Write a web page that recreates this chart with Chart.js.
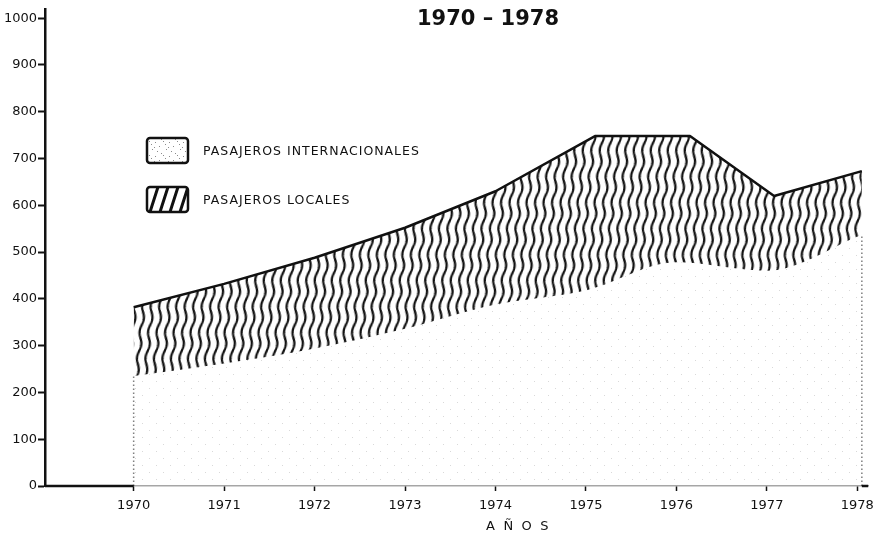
<!DOCTYPE html>
<html>
<head>
<meta charset="utf-8">
<script src="https://cdn.jsdelivr.net/npm/chart.js@4/dist/chart.umd.min.js"></script>
<style>
  html, body { margin: 0; padding: 0; background: #fff; }
  canvas { display: block; }
</style>
</head>
<body>
<canvas id="myChart" width="881" height="540"></canvas>
<script>
// values (thousands of passengers)
const aniosInt = [1970, 1971, 1972, 1973, 1974, 1975, 1976, 1977, 1978.05];
const internacionales = [235, 262, 294, 336, 388, 418, 478, 460, 537];
const aniosTotal = [1970, 1971, 1972, 1973, 1974, 1975.1, 1976.15, 1977.08, 1978.05];
const totalPasajeros = [382, 432, 488, 552, 630, 748, 748, 620, 673];
const yearTicks = [1970, 1971, 1972, 1973, 1974, 1975, 1976, 1977, 1978];
const valueTicks = [0, 100, 200, 300, 400, 500, 600, 700, 800, 900, 1000];
const etiquetas = ['PASAJEROS INTERNACIONALES', 'PASAJEROS LOCALES'];

const INK = '#111';
const FONT = 'DejaVu Sans';

// two wavy strokes per 17px tile -> one stroke every 8.5px
function wavyPattern(skew) {
  const c = document.createElement('canvas');
  c.width = 17; c.height = 26;
  const g = c.getContext('2d');
  g.strokeStyle = INK;
  g.lineWidth = 2.3;
  [4.25, 12.75].forEach(cx => {
    g.beginPath();
    for (let y = -2; y <= 28; y++) {
      const x = cx + 1.5 * Math.sin(y / 26 * 2 * Math.PI);
      if (y === -2) g.moveTo(x, y); else g.lineTo(x, y);
    }
    g.stroke();
  });
  const p = g.createPattern(c, 'repeat');
  p.setTransform(new DOMMatrix([1, 0, skew, 1, 0, 0]));
  return p;
}

function stipple(alpha, dots) {
  const c = document.createElement('canvas');
  c.width = 14; c.height = 14;
  const g = c.getContext('2d');
  g.fillStyle = 'rgba(0,0,0,' + alpha + ')';
  dots.forEach(d => g.fillRect(d[0], d[1], 1, 1));
  return g.createPattern(c, 'repeat');
}

const wavy = wavyPattern(-0.1);
const dotsArea = stipple(0.15, [[2, 3], [9, 10]]);
const dotsLegend = stipple(0.45, [[1, 2], [5, 6], [9, 1], [12, 9], [3, 11], [7, 13], [11, 4], [0, 7]]);

const decor = {
  id: 'decor',
  afterDatasetsDraw(chart) {
    const {ctx, scales: {x, y}} = chart;
    const y0 = y.getPixelForValue(0);
    ctx.save();
    // the axis is only drawn solid outside the stippled area
    ctx.strokeStyle = INK;
    ctx.lineWidth = 2.5;
    ctx.beginPath();
    ctx.moveTo(x.left, y0);
    ctx.lineTo(x.getPixelForValue(aniosInt[0]), y0);
    ctx.moveTo(x.getPixelForValue(aniosInt[aniosInt.length - 1]), y0);
    ctx.lineTo(x.right, y0);
    ctx.stroke();
    // dotted side edges of the international area
    ctx.strokeStyle = 'rgba(0,0,0,0.5)';
    ctx.lineWidth = 1.5;
    ctx.setLineDash([1.5, 2.5]);
    ctx.beginPath();
    [0, aniosInt.length - 1].forEach(i => {
      const px = x.getPixelForValue(aniosInt[i]);
      ctx.moveTo(px, y0);
      ctx.lineTo(px, y.getPixelForValue(internacionales[i]));
    });
    ctx.stroke();
    ctx.restore();
  },
  afterDraw(chart) {
    const ctx = chart.ctx;
    ctx.save();
    ctx.fillStyle = INK;
    ctx.font = 'bold 21px "' + FONT + '"';
    ctx.textBaseline = 'alphabetic';
    ctx.textAlign = 'center';
    ctx.fillText('1970 \u2013 1978', 488, 25);

    // legend
    ctx.textAlign = 'left';
    const boxes = [{y: 138, fill: dotsLegend}, {y: 187, fill: null}];
    boxes.forEach((b, i) => {
      ctx.beginPath();
      ctx.roundRect(147, b.y, 41, 25, 3);
      ctx.fillStyle = '#fff';
      ctx.fill();
      if (b.fill) {
        ctx.fillStyle = b.fill;
        ctx.fill();
      } else {
        ctx.save();
        ctx.clip();
        ctx.strokeStyle = INK;
        ctx.lineWidth = 3;
        ctx.beginPath();
        for (let k = 0; k < 5; k++) {
          const bx = 147 + 3 + k * 10;
          ctx.moveTo(bx, b.y + 25);
          ctx.lineTo(bx + 8, b.y);
        }
        ctx.stroke();
        ctx.restore();
      }
      ctx.strokeStyle = INK;
      ctx.lineWidth = 2.5;
      ctx.beginPath();
      ctx.roundRect(147, b.y, 41, 25, 3);
      ctx.stroke();
      ctx.fillStyle = INK;
      ctx.font = '12.5px "' + FONT + '"';
      ctx.letterSpacing = '1px';
      ctx.textBaseline = 'middle';
      ctx.fillText(etiquetas[i], 203, b.y + 14);
    });

    ctx.font = '13px "' + FONT + '"';
    ctx.letterSpacing = '8.5px';
    ctx.fillText('A\u00D1OS', 486, 527);
    ctx.restore();
  }
};

const ctx = document.getElementById('myChart');

new Chart(ctx, {
  type: 'line',
  data: {
    datasets: [{
      label: etiquetas[0],
      data: aniosInt.map((a, i) => ({x: a, y: internacionales[i]})),
      borderWidth: 0,
      borderColor: 'rgba(0,0,0,0)',
      backgroundColor: dotsArea,
      fill: 'origin',
      pointRadius: 0,
      cubicInterpolationMode: 'monotone'
    }, {
      label: etiquetas[1],
      data: aniosTotal.map((a, i) => ({x: a, y: totalPasajeros[i]})),
      borderWidth: 2.5,
      borderColor: INK,
      borderJoinStyle: 'round',
      backgroundColor: wavy,
      fill: '-1',
      pointRadius: 0,
      tension: 0
    }]
  },
  plugins: [decor],
  options: {
    responsive: false,
    animation: false,
    devicePixelRatio: 1,
    layout: { padding: { top: 5, right: 10, bottom: 0, left: 0 } },
    plugins: {
      legend: { display: false },
      title: { display: false },
      tooltip: { enabled: false }
    },
    scales: {
      x: {
        type: 'linear',
        min: 1969.02,
        max: 1978.12,
        afterBuildTicks: s => { s.ticks = yearTicks.map(v => ({value: v})); },
        afterFit: s => { s.height = 54; },
        ticks: {
          color: INK,
          font: { family: FONT, size: 13 },
          padding: 7,
          maxRotation: 0,
          callback: v => String(v)
        },
        grid: { drawOnChartArea: false, tickLength: 5, tickColor: INK, tickWidth: 1.5 },
        border: { color: 'rgba(0,0,0,0.35)', width: 1.5, dash: [2, 3] }
      },
      y: {
        type: 'linear',
        min: 0,
        max: 1020,
        afterBuildTicks: s => { s.ticks = valueTicks.map(v => ({value: v})); },
        afterFit: s => { s.width = 45; },
        ticks: {
          color: INK,
          font: { family: FONT, size: 13 },
          padding: 1,
          callback: v => String(v)
        },
        grid: { drawOnChartArea: false, tickLength: 7, tickColor: INK, tickWidth: 2 },
        border: { color: INK, width: 2.5 }
      }
    }
  }
});
</script>
</body>
</html>
